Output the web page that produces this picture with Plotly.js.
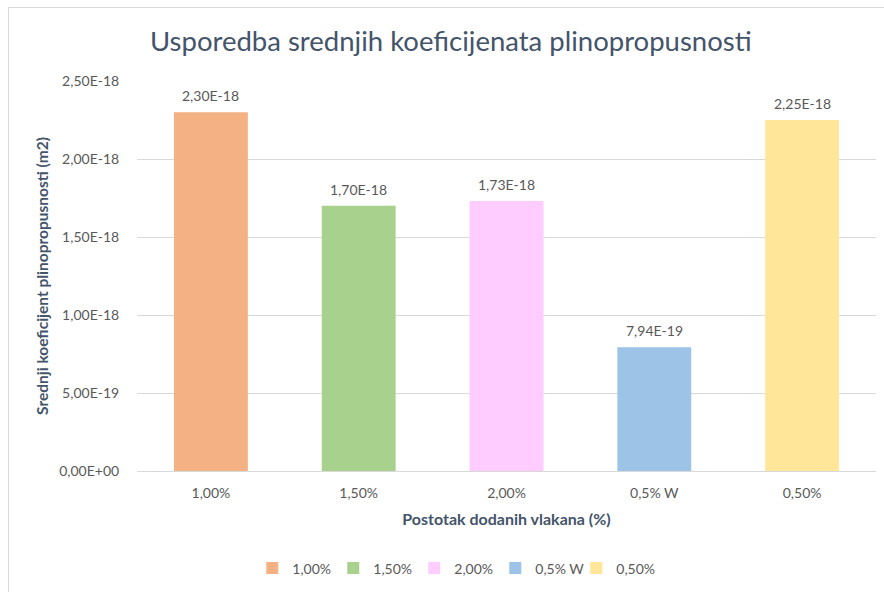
<!DOCTYPE html>
<html>
<head>
<meta charset="utf-8">
<script src="https://cdn.plot.ly/plotly-3.0.1.min.js"></script>
<style>
html,body{margin:0;padding:0;background:#fff;}
#frame{position:absolute;left:8px;top:7px;width:884px;height:600px;border-left:1px solid #D9D9D9;border-top:1px solid #D9D9D9;pointer-events:none;z-index:5;}
#chart{position:absolute;left:0;top:0;width:884px;height:592px;}
</style>
</head>
<body>
<div id="chart"></div>
<div id="frame"></div>
<script>
const categories = ["1,00%", "1,50%", "2,00%", "0,5% W", "0,50%"];
const values = [2.30e-18, 1.70e-18, 1.73e-18, 7.94e-19, 2.25e-18];
const valueLabels = ["2,30E-18", "1,70E-18", "1,73E-18", "7,94E-19", "2,25E-18"];
const colors = ["#F4B183", "#A9D18E", "#FFCCFF", "#9DC3E6", "#FFE699"];
const tickVals = [0, 5e-19, 1e-18, 1.5e-18, 2e-18, 2.5e-18];
const tickText = ["0,00E+00", "5,00E-19", "1,00E-18", "1,50E-18", "2,00E-18", "2,50E-18"];

const font = "Lato, 'Open Sans', sans-serif";
const traces = categories.map((c, i) => ({
  type: "bar",
  name: c,
  x: [c],
  y: [values[i]],
  marker: {color: colors[i]},
  width: 0.5,
  hoverinfo: "skip"
}));

const annotations = categories.map((c, i) => ({
  x: c, y: values[i], xref: "x", yref: "y",
  text: valueLabels[i], showarrow: false,
  yanchor: "bottom", yshift: 6,
  font: {family: font, size: 14, color: "#595959"}
}));

const layout = {
  width: 884, height: 592,
  margin: {l: 137, r: 8, t: 81, b: 119},
  paper_bgcolor: "#fff", plot_bgcolor: "#fff",
  barmode: "overlay",
  annotations: annotations,
  title: {text: "Usporedba srednjih koeficijenata plinopropusnosti",
          font: {family: font, size: 27.5, color: "#44546A"},
          x: 0.51, xanchor: "center", y: 0.93, yanchor: "middle"},
  xaxis: {
    type: "category",
    categoryorder: "array", categoryarray: categories,
    showgrid: false, showline: true, linecolor: "#D9D9D9", linewidth: 1,
    ticks: "outside", ticklen: 9, tickcolor: "rgba(0,0,0,0)",
    tickfont: {family: font, size: 14, color: "#595959"},
    title: {text: "<b>Postotak dodanih vlakana (%)</b>", font: {family: font, size: 16, color: "#44546A"}, standoff: 14},
    fixedrange: true
  },
  yaxis: {
    range: [0, 2.5e-18], tickvals: tickVals, ticktext: tickText,
    showgrid: true, gridcolor: "#D9D9D9", gridwidth: 1, zeroline: false,
    showline: false, ticks: "outside", ticklen: 14, tickcolor: "rgba(0,0,0,0)",
    tickfont: {family: font, size: 14, color: "#595959"},
    title: {text: "<b>Srednji koeficijent plinopropusnosti (m2)</b>", font: {family: font, size: 15.5, color: "#44546A"}, standoff: 6},
    fixedrange: true
  },
  showlegend: true,
  legend: {orientation: "h", x: 0.43, xanchor: "center", y: -0.25, yanchor: "middle",
           font: {family: font, size: 14, color: "#595959"}, itemwidth: 30,
           entrywidth: 36, entrywidthmode: "pixels", traceorder: "normal"}
};

Plotly.newPlot("chart", traces, layout, {displayModeBar: false, staticPlot: true});
</script>
</body>
</html>
